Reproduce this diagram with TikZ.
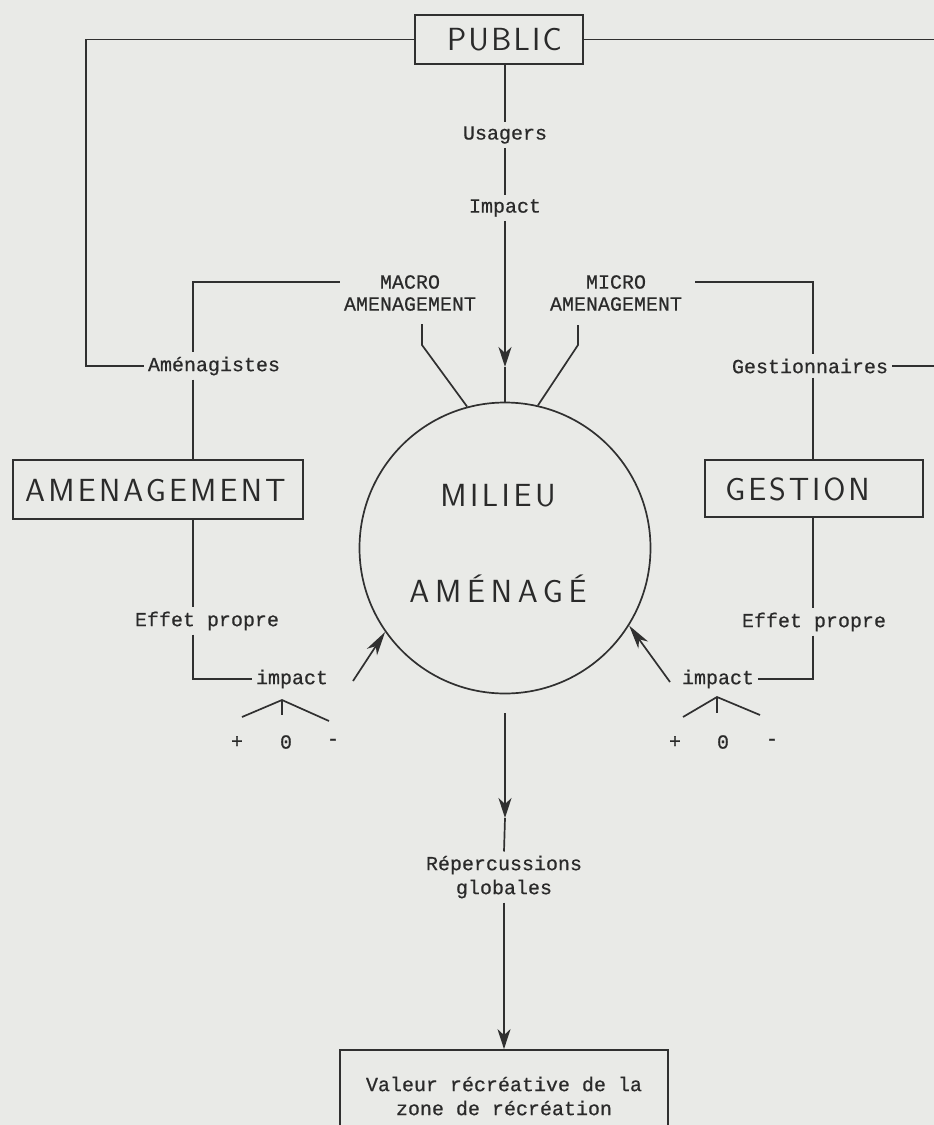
\documentclass[tikz,border=0pt]{standalone}
\usepackage{fontspec}
\newfontfamily\tw{Liberation Mono}[FakeBold=0.5]
\newfontfamily\bigsf{lmsans17-regular.otf}
\usetikzlibrary{arrows.meta}
\definecolor{bg}{HTML}{E9EAE7}
\definecolor{lc}{HTML}{303030}
\definecolor{tc}{HTML}{2A2A2A}
\newcommand{\bigf}[1]{\bigsf\fontsize{32}{36}\selectfont\addfontfeature{LetterSpace=#1}}
\begin{document}
\begin{tikzpicture}[x=1pt,y=-1pt,
  ln/.style={draw=lc,line width=1.7pt},
  bigbox/.style={draw=lc,line width=1.8pt,text=tc,inner sep=0pt},
  lab/.style={font=\tw\fontsize{20}{24}\selectfont,text=tc,inner sep=4pt},
  tipv/.style={-{Stealth[length=20pt,width=13pt,inset=6pt]}},
  tipd/.style={-{Stealth[length=24pt,width=12pt,inset=7pt]}}]
\fill[bg] (0,0) rectangle (934,1125);
\useasboundingbox (0,0) rectangle (934,1125);
\clip (0,0) rectangle (934,1125);
% main boxes
\node[bigbox,minimum width=168pt,minimum height=49pt] (pub) at (499,39.5) {};
\node[bigbox,minimum width=290pt,minimum height=59pt] (amb) at (158,489.5) {};
\node[bigbox,minimum width=218pt,minimum height=57pt] (gb) at (814,488.5) {};
\node[text=tc,font=\bigf{7},inner sep=0pt] (pubt) at (504.5,40) {PUBLIC};
\node[text=tc,font=\bigf{10},inner sep=0pt] (ambt) at (155.5,490) {AMENAGEMENT};
\node[text=tc,font=\bigf{9},inner sep=0pt] (gbt) at (797.5,489) {GESTION};
\node[circle,ln,minimum size=291pt,inner sep=0pt] (mil) at (505,548) {};
\node[text=tc,font=\bigf{11}] (t1) at (498,496) {MILIEU};
\node[text=tc,font=\bigf{18}] (t2) at (498,589) {AMÉNAGÉ};
% labels
\node[lab] (us) at (505,135) {Usagers};
\node[lab] (imp) at (505,208) {Impact};
\node[lab] (mac1) at (410,282) {MACRO};
\node[lab] (mac2) at (410,304) {AMENAGEMENT};
\node[lab] (mic1) at (616,282) {MICRO};
\node[lab] (mic2) at (616,304) {AMENAGEMENT};
\node[lab] (am) at (214,366) {Aménagistes};
\node[lab] (gl) at (810,366) {Gestionnaires};
\node[lab] (ep1) at (207,621) {Effet propre};
\node[lab] (ep2) at (814,622) {Effet propre};
\node[lab] (imp1) at (292,679) {impact};
\node[lab] (imp2) at (718,679) {impact};
\node[lab] (p1) at (237,742) {+};
\node[lab] (z1) at (286,742) {0};
\node[lab] (m1) at (333,742) {-};
\node[lab] (p2) at (675,742) {+};
\node[lab] (z2) at (723,742) {0};
\node[lab] (m2) at (772,742) {-};
\node[lab,align=center] (rep) at (504,877) {Répercussions\\globales};
\node[lab,draw=lc,line width=1.8pt,minimum width=328pt,minimum height=92pt,align=center,inner sep=0pt] (val) at (504,1096) {Valeur récréative de la\\zone de récréation};
% helper coordinates
\coordinate (xL) at (86,0);
\coordinate (xR) at (945,0);
\coordinate (xC) at (505,0);
\coordinate (xML) at (193,0);
\coordinate (xMR) at (813,0);
\coordinate (m2e) at ([xshift=9pt]mic2.east);
\coordinate (tip1) at (505,367);
\coordinate (ma) at (422,324);
\coordinate (mb) at (422,345);
\coordinate (ca) at (578,325);
\coordinate (cb) at (578,345);
\coordinate (a1) at (353,681);
\coordinate (a2) at (670,682);
\coordinate (b0) at ([yshift=-19pt]mil.south);
\coordinate (tip2) at (505,818);
\coordinate (f1l) at (242,717);
\coordinate (f1a) at (282,700);
\coordinate (f1r) at (329,721);
\coordinate (f1b) at (282,715);
\coordinate (f2l) at (683,717);
\coordinate (f2a) at (717,697);
\coordinate (f2r) at (760,715);
\coordinate (f2b) at (717,713);
% connectors
\draw[ln] (pub.west) -- (pub.west -| xL) -- (am.west -| xL) -- (am.west);
\draw[ln] (pub.east) -- (pub.east -| xR);
\draw[ln] (gl.east) -- (gl.east -| xR);
\draw[ln] (xC |- pub.south) -- (us.north);
\draw[ln] (us.south) -- (imp.north);
\draw[ln,tipv] (imp.south) -- (tip1);
\draw[ln] (tip1) -- (mil.north);
\draw[ln] (mac2.west |- mac1.center) -| (xML |- am.north);
\draw[ln] (xML |- am.south) -- (xML |- amb.north);
\draw[ln] (xML |- amb.south) -- (xML |- ep1.north);
\draw[ln] (xML |- ep1.south) |- (imp1.west);
\draw[ln] (m2e |- mic1.center) -| (xMR |- gl.north);
\draw[ln] (xMR |- gl.south) -- (xMR |- gb.north);
\draw[ln] (xMR |- gb.south) -- (xMR |- ep2.north);
\draw[ln] (xMR |- ep2.south) |- (imp2.east);
\draw[ln] (ma) -- (mb) -- (mil.105);
\draw[ln] (ca) -- (cb) -- (mil.77);
\draw[ln,tipd] (a1) -- (mil.215);
\draw[ln,tipd] (a2) -- (mil.328);
\draw[ln] (f1l) -- (f1a) -- (f1r);
\draw[ln] (f1a) -- (f1b);
\draw[ln] (f2l) -- (f2a) -- (f2r);
\draw[ln] (f2a) -- (f2b);
\draw[ln,tipv] (b0) -- (tip2);
\draw[ln] (tip2) -- (rep.north);
\draw[ln,tipv] (rep.south) -- (val.north);
\end{tikzpicture}
\end{document}
